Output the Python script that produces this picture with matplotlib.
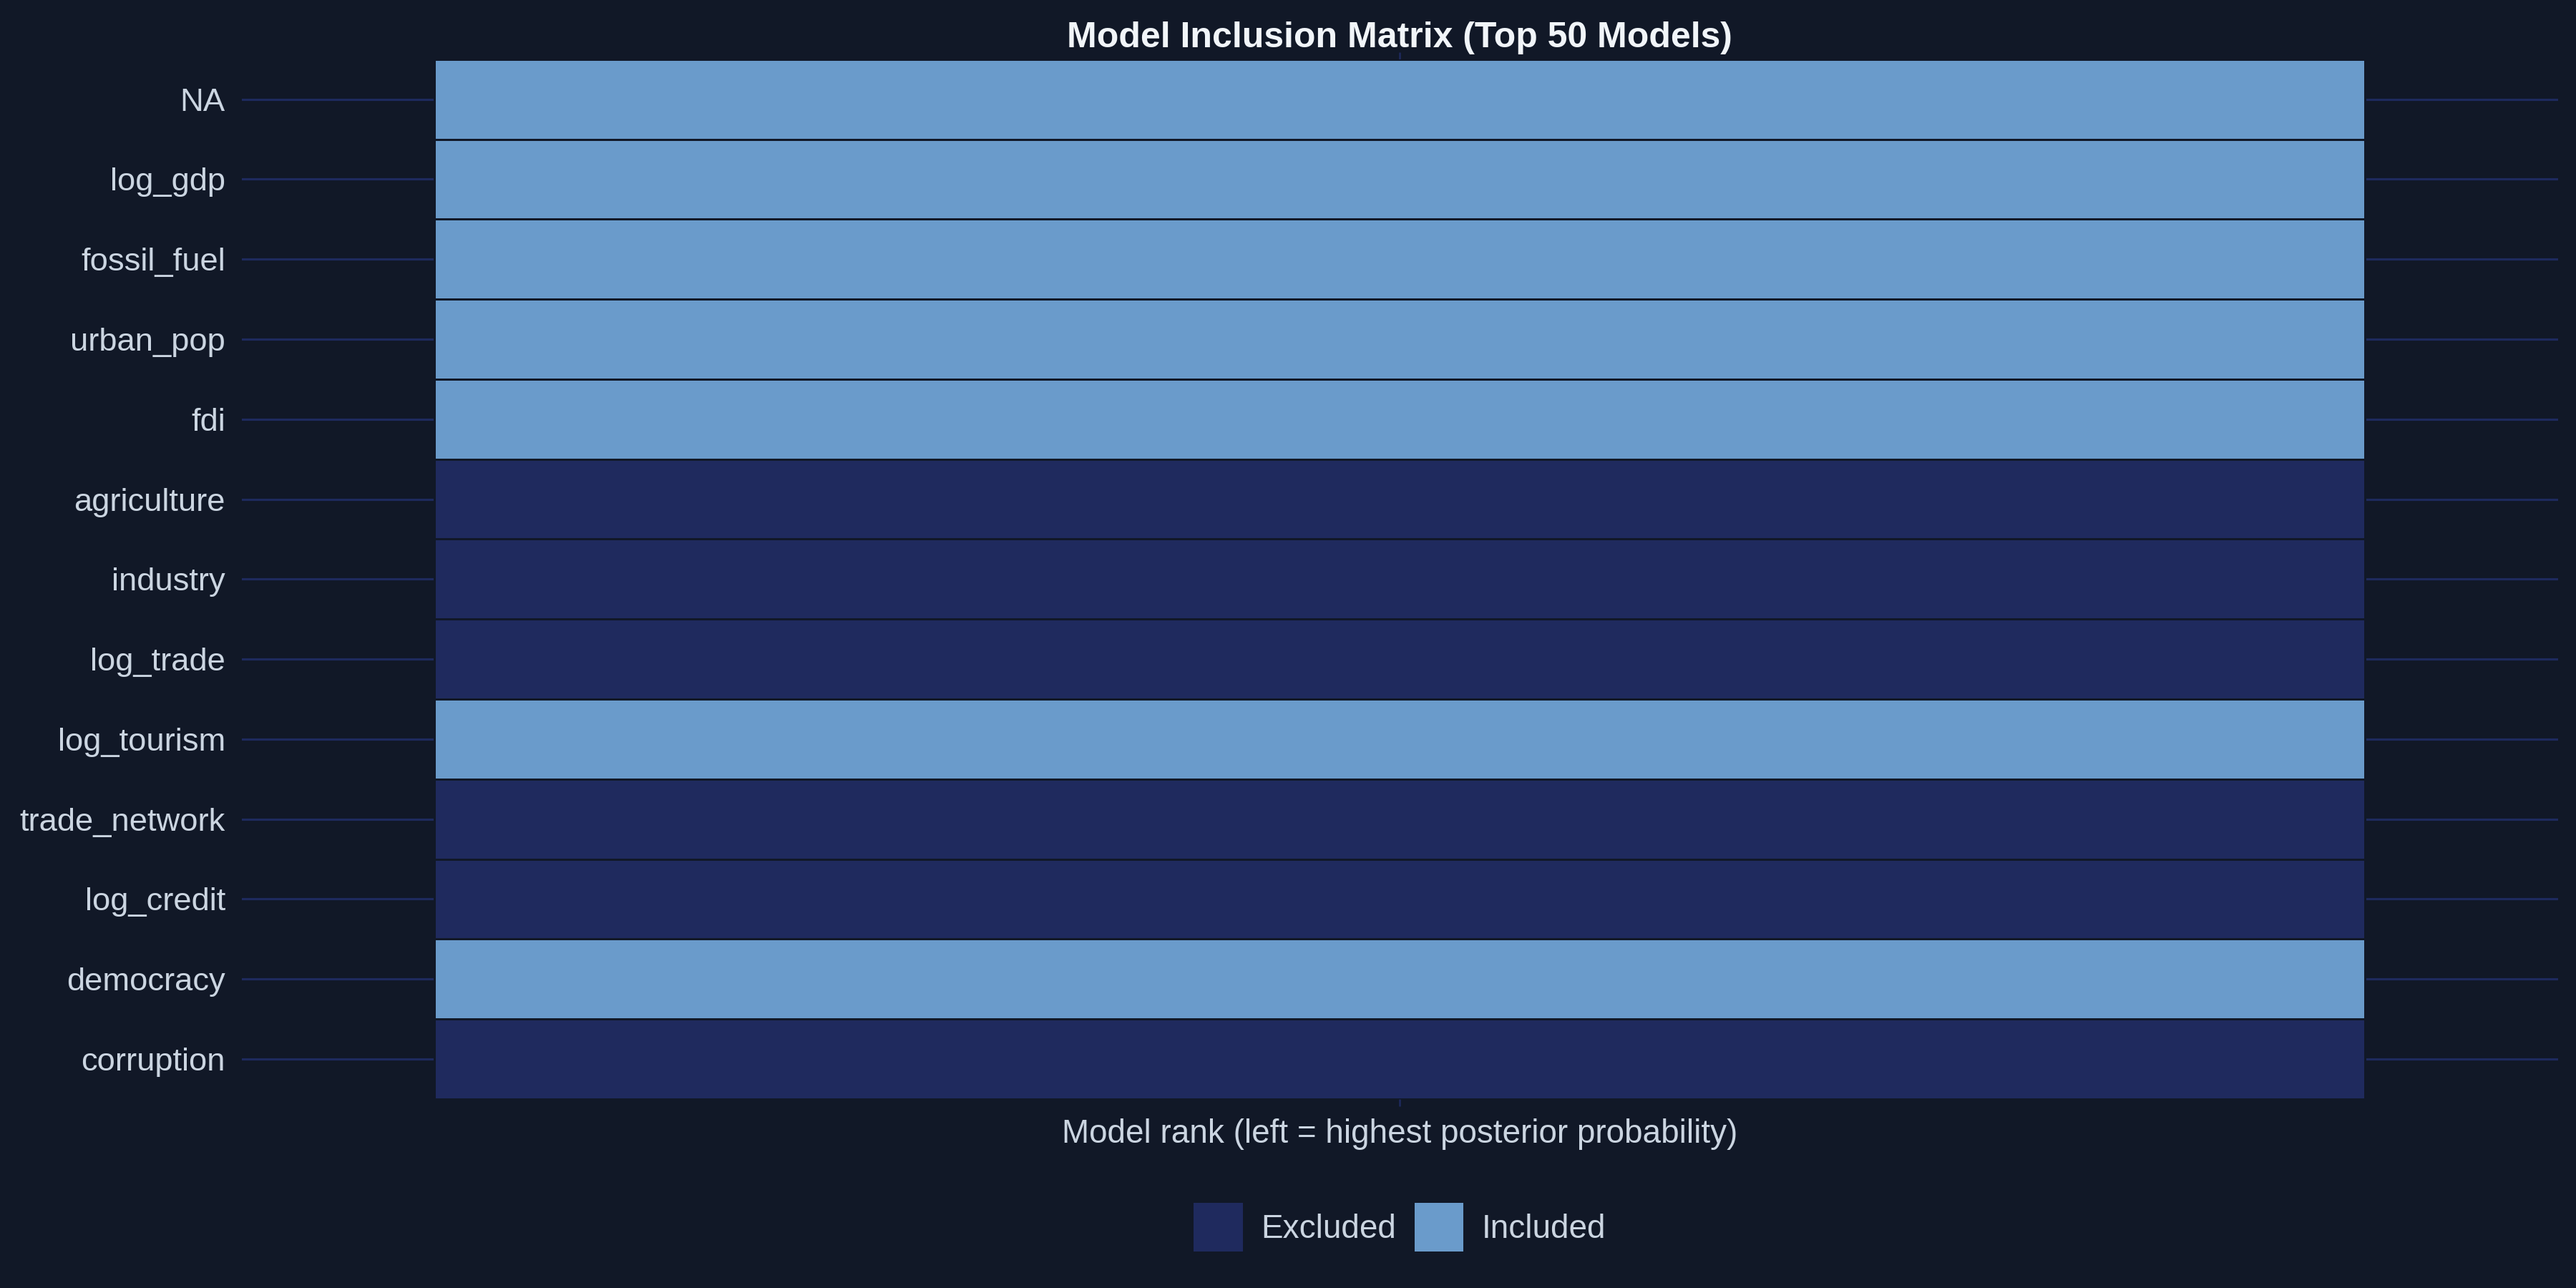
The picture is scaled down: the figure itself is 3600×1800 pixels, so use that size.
import numpy as np
import matplotlib
matplotlib.use("Agg")
import matplotlib.pyplot as plt
from matplotlib.colors import ListedColormap
from matplotlib.patches import Patch

# variables (top to bottom) and whether they are in the top model
variables = ["NA", "log_gdp", "fossil_fuel", "urban_pop", "fdi", "agriculture",
             "industry", "log_trade", "log_tourism", "trade_network",
             "log_credit", "democracy", "corruption"]
included = [1, 1, 1, 1, 1, 0, 0, 0, 1, 0, 0, 1, 0]
model_rank = [1]
legend_labels = ["Excluded", "Included"]

BG = "#111827"
EXCL = "#1f2a5e"
INCL = "#6a9bcb"
GRID = "#1e2a5e"
TXT = "#cbd5e1"
TITLE = "#f1f5f9"

plt.rcParams["font.family"] = ["Liberation Sans", "DejaVu Sans"]

fig = plt.figure(figsize=(12, 6), dpi=300, facecolor=BG)
ax = fig.add_axes([0.0938, 0.1467, 0.8992, 0.8073])
ax.set_facecolor(BG)

n = len(variables)
z = np.array(included).reshape(n, 1)
x_edges = np.array([model_rank[0] - 0.5, model_rank[0] + 0.5])
y_edges = np.arange(n + 1) - 0.5

# row gridlines under the tiles
for i in range(n):
    ax.axhline(i, color=GRID, lw=0.75, zorder=0)

ax.pcolormesh(x_edges, y_edges, z, cmap=ListedColormap([EXCL, INCL]),
              vmin=0, vmax=1, edgecolor=BG, linewidth=0.6, zorder=2)

ax.set_xlim(model_rank[0] - 0.6, model_rank[0] + 0.6)
ax.set_ylim(n - 0.5, -0.5)
ax.set_yticks(range(n))
ax.set_yticklabels(variables)
ax.set_xticks(model_rank)
ax.set_xticklabels([""])
ax.tick_params(axis="y", length=0, pad=5.5, labelsize=10.9, labelcolor=TXT)
ax.tick_params(axis="x", length=2.4, width=0.6, color=GRID, top=True)
for s in ax.spines.values():
    s.set_visible(False)

ax.set_xlabel("Model rank (left = highest posterior probability)",
              color=TXT, fontsize=11, labelpad=0.5)
ax.set_title("Model Inclusion Matrix (Top 50 Models)", color=TITLE,
             fontsize=12, fontweight="bold", pad=4)

handles = [Patch(facecolor=EXCL, edgecolor="none"),
           Patch(facecolor=INCL, edgecolor="none")]
leg = fig.legend(handles, legend_labels, loc="center",
                 bbox_to_anchor=(0.5434, 0.047), ncol=2, frameon=False,
                 fontsize=11, handlelength=1.5, handleheight=1.9,
                 handletextpad=0.55, columnspacing=0.55)
for t in leg.get_texts():
    t.set_color(TXT)

fig.savefig("out.png", dpi=300, facecolor=BG)
